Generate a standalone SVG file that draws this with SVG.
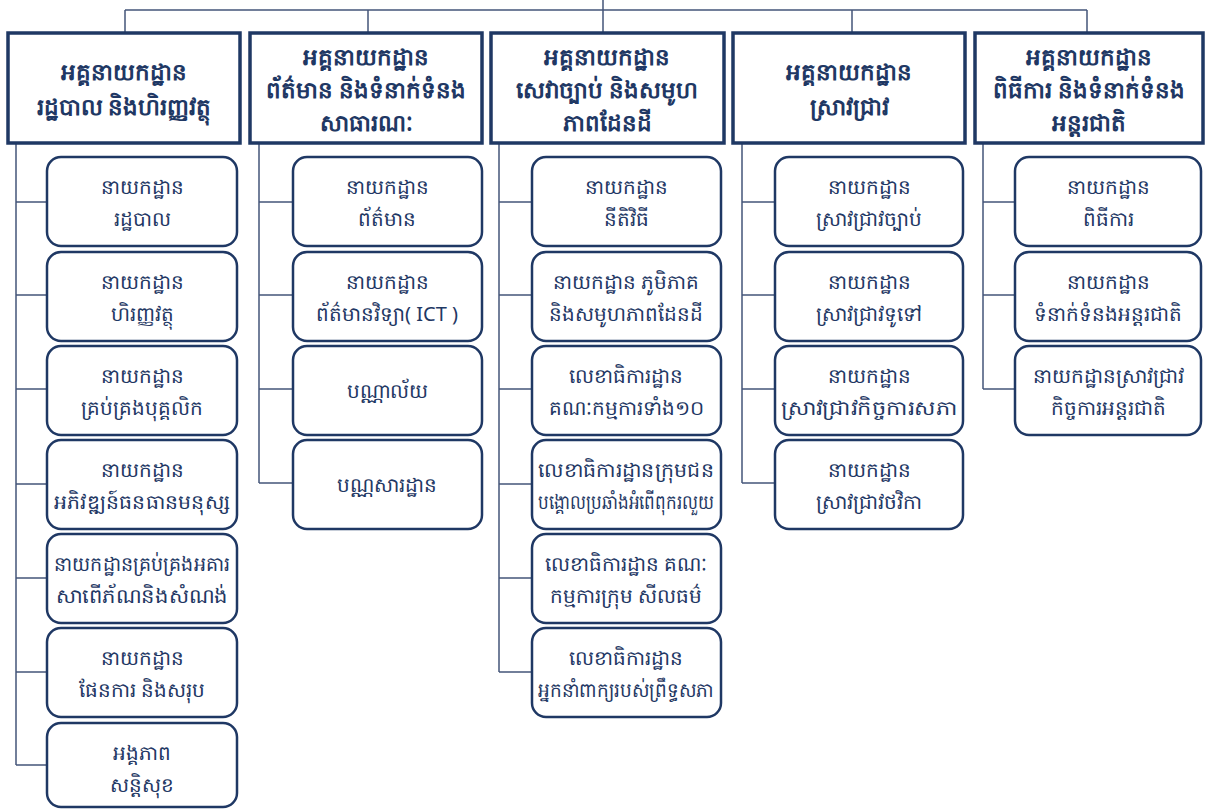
<svg xmlns="http://www.w3.org/2000/svg" width="1208" height="809" viewBox="0 0 1208 809">
<style>
.hd{fill:#fff;stroke:#1f3864;stroke-width:3.5}
.ch{fill:#fff;stroke:#1f3864;stroke-width:2.5}
.ln{fill:none;stroke:#44557a;stroke-width:1.5}
text{font-family:"Noto Sans","DejaVu Sans",sans-serif;fill:#1f3864;text-anchor:middle;dominant-baseline:central}
.ht{font-size:23px;font-weight:bold}
.ct{font-size:20px}
</style>
<rect width="1208" height="809" fill="#fff"/>
<g id="connectors">
<path class="ln" d="M603,0V33M125,10H1087M125,10V33M368,10V33M852,10V33M1087,10V33"/>
<path class="ln" d="M16,143V765M16,202H47M16,295H47M16,389H47M16,484H47M16,578H47M16,672H47M16,765H47"/>
<path class="ln" d="M259,143V483M259,202H293M259,295H293M259,389H293M259,483H293"/>
<path class="ln" d="M499,143V672M499,202H532M499,295H532M499,389H532M499,484H532M499,578H532M499,672H532"/>
<path class="ln" d="M742,143V483M742,202H775M742,295H775M742,389H775M742,483H775"/>
<path class="ln" d="M983,143V389M983,202H1015M983,295H1015M983,389H1015"/>
</g>
<g id="h1"><rect class="hd" x="8" y="33" width="232" height="110"/><text class="ht" x="124" y="71">អគ្គនាយកដ្ឋាន</text><text class="ht" x="124" y="106">រដ្ឋបាល និងហិរញ្ញវត្ថុ</text></g>
<g id="h2"><rect class="hd" x="250" y="33" width="232" height="110"/><text class="ht" x="366" y="56">អគ្គនាយកដ្ឋាន</text><text class="ht" x="366" y="89">ព័ត៌មាន និងទំនាក់ទំនង</text><text class="ht" x="366" y="122">សាធារណៈ</text></g>
<g id="h3"><rect class="hd" x="491" y="33" width="233" height="110"/><text class="ht" x="607" y="56">អគ្គនាយកដ្ឋាន</text><text class="ht" x="607" y="89">សេវាច្បាប់ និងសមូហ</text><text class="ht" x="607" y="122">ភាពដែនដី</text></g>
<g id="h4"><rect class="hd" x="733" y="33" width="232" height="110"/><text class="ht" x="849" y="71">អគ្គនាយកដ្ឋាន</text><text class="ht" x="849" y="106">ស្រាវជ្រាវ</text></g>
<g id="h5"><rect class="hd" x="975" y="33" width="228" height="110"/><text class="ht" x="1089" y="56">អគ្គនាយកដ្ឋាន</text><text class="ht" x="1089" y="89">ពិធីការ និងទំនាក់ទំនង</text><text class="ht" x="1089" y="122">អន្តរជាតិ</text></g>

<g id="c1-1"><rect class="ch" x="47" y="157" width="190" height="89" rx="14"/><text class="ct" x="142" y="186">នាយកដ្ឋាន</text><text class="ct" x="142" y="218">រដ្ឋបាល</text></g>
<g id="c1-2"><rect class="ch" x="47" y="252" width="190" height="89" rx="14"/><text class="ct" x="142" y="281">នាយកដ្ឋាន</text><text class="ct" x="142" y="313">ហិរញ្ញវត្ថុ</text></g>
<g id="c1-3"><rect class="ch" x="47" y="346" width="190" height="89" rx="14"/><text class="ct" x="142" y="375">នាយកដ្ឋាន</text><text class="ct" x="142" y="407">គ្រប់គ្រងបុគ្គលិក</text></g>
<g id="c1-4"><rect class="ch" x="47" y="440" width="190" height="89" rx="14"/><text class="ct" x="142" y="469">នាយកដ្ឋាន</text><text class="ct" x="142" y="501" textLength="176" lengthAdjust="spacingAndGlyphs">អភិវឌ្ឍន៍ធនធានមនុស្ស</text></g>
<g id="c1-5"><rect class="ch" x="47" y="534" width="190" height="89" rx="14"/><text class="ct" x="142" y="563" textLength="176" lengthAdjust="spacingAndGlyphs">នាយកដ្ឋានគ្រប់គ្រងអគារ</text><text class="ct" x="142" y="595" textLength="172" lengthAdjust="spacingAndGlyphs">សាពើភ័ណនិងសំណង់</text></g>
<g id="c1-6"><rect class="ch" x="47" y="628" width="190" height="89" rx="14"/><text class="ct" x="142" y="657">នាយកដ្ឋាន</text><text class="ct" x="142" y="689">ផែនការ និងសរុប</text></g>
<g id="c1-7"><rect class="ch" x="47" y="723" width="190" height="84" rx="14"/><text class="ct" x="142" y="752">អង្គភាព</text><text class="ct" x="142" y="784">សន្តិសុខ</text></g>

<g id="c2-1"><rect class="ch" x="293" y="157" width="189" height="89" rx="14"/><text class="ct" x="387" y="186">នាយកដ្ឋាន</text><text class="ct" x="387" y="218">ព័ត៌មាន</text></g>
<g id="c2-2"><rect class="ch" x="293" y="252" width="189" height="89" rx="14"/><text class="ct" x="387" y="281">នាយកដ្ឋាន</text><text class="ct" x="387" y="313">ព័ត៌មានវិទ្យា( ICT )</text></g>
<g id="c2-3"><rect class="ch" x="293" y="346" width="189" height="89" rx="14"/><text class="ct" x="387" y="390">បណ្ណាល័យ</text></g>
<g id="c2-4"><rect class="ch" x="293" y="440" width="189" height="89" rx="14"/><text class="ct" x="387" y="484">បណ្ណសារដ្ឋាន</text></g>

<g id="c3-1"><rect class="ch" x="532" y="157" width="189" height="89" rx="14"/><text class="ct" x="626" y="186">នាយកដ្ឋាន</text><text class="ct" x="626" y="218">នីតិវិធី</text></g>
<g id="c3-2"><rect class="ch" x="532" y="252" width="189" height="89" rx="14"/><text class="ct" x="626" y="281">នាយកដ្ឋាន ភូមិភាគ</text><text class="ct" x="626" y="313">និងសមូហភាពដែនដី</text></g>
<g id="c3-3"><rect class="ch" x="532" y="346" width="189" height="89" rx="14"/><text class="ct" x="626" y="375">លេខាធិការដ្ឋាន</text><text class="ct" x="626" y="407">គណៈកម្មការទាំង១០</text></g>
<g id="c3-4"><rect class="ch" x="532" y="440" width="189" height="89" rx="14"/><text class="ct" x="626" y="469" textLength="176" lengthAdjust="spacingAndGlyphs">លេខាធិការដ្ឋានក្រុមជន</text><text class="ct" x="626" y="501" textLength="176" lengthAdjust="spacingAndGlyphs">បង្គោលប្រឆាំងអំពើពុករលួយ</text></g>
<g id="c3-5"><rect class="ch" x="532" y="534" width="189" height="89" rx="14"/><text class="ct" x="626" y="563">លេខាធិការដ្ឋាន គណៈ</text><text class="ct" x="626" y="595">កម្មការក្រុម សីលធម៌</text></g>
<g id="c3-6"><rect class="ch" x="532" y="628" width="189" height="89" rx="14"/><text class="ct" x="626" y="657">លេខាធិការដ្ឋាន</text><text class="ct" x="626" y="689" textLength="176" lengthAdjust="spacingAndGlyphs">អ្នកនាំពាក្យរបស់ព្រឹទ្ធសភា</text></g>

<g id="c4-1"><rect class="ch" x="775" y="157" width="188" height="89" rx="14"/><text class="ct" x="869" y="186">នាយកដ្ឋាន</text><text class="ct" x="869" y="218">ស្រាវជ្រាវច្បាប់</text></g>
<g id="c4-2"><rect class="ch" x="775" y="252" width="188" height="89" rx="14"/><text class="ct" x="869" y="281">នាយកដ្ឋាន</text><text class="ct" x="869" y="313">ស្រាវជ្រាវទូទៅ</text></g>
<g id="c4-3"><rect class="ch" x="775" y="346" width="188" height="89" rx="14"/><text class="ct" x="869" y="375">នាយកដ្ឋាន</text><text class="ct" x="869" y="407" textLength="176" lengthAdjust="spacingAndGlyphs">ស្រាវជ្រាវកិច្ចការសភា</text></g>
<g id="c4-4"><rect class="ch" x="775" y="440" width="188" height="89" rx="14"/><text class="ct" x="869" y="469">នាយកដ្ឋាន</text><text class="ct" x="869" y="501">ស្រាវជ្រាវថវិកា</text></g>

<g id="c5-1"><rect class="ch" x="1015" y="157" width="186" height="89" rx="14"/><text class="ct" x="1108" y="186">នាយកដ្ឋាន</text><text class="ct" x="1108" y="218">ពិធីការ</text></g>
<g id="c5-2"><rect class="ch" x="1015" y="252" width="186" height="89" rx="14"/><text class="ct" x="1108" y="281">នាយកដ្ឋាន</text><text class="ct" x="1108" y="313">ទំនាក់ទំនងអន្តរជាតិ</text></g>
<g id="c5-3"><rect class="ch" x="1015" y="346" width="186" height="89" rx="14"/><text class="ct" x="1108" y="375">នាយកដ្ឋានស្រាវជ្រាវ</text><text class="ct" x="1108" y="407">កិច្ចការអន្តរជាតិ</text></g>
</svg>
